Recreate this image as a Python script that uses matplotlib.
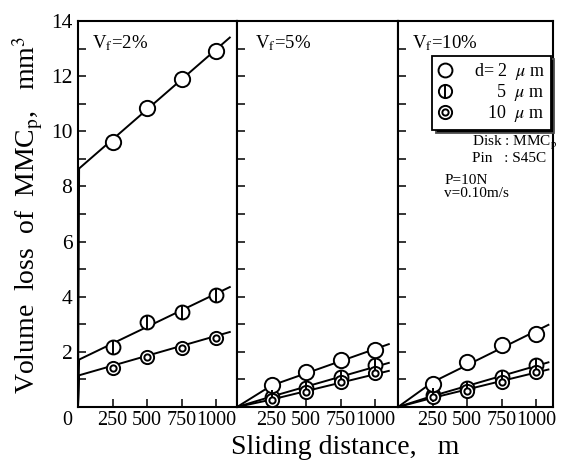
import matplotlib
matplotlib.use('Agg')
import matplotlib.pyplot as plt
import matplotlib.transforms as mtransforms
from matplotlib.lines import Line2D
from matplotlib.ticker import MultipleLocator

plt.rcParams['font.family'] = ['Liberation Serif', 'DejaVu Serif']
plt.rcParams['mathtext.fontset'] = 'stix'

# ---------------- data ----------------
distance = [250, 500, 750, 1000]
vf_labels = ["2%", "5%", "10%"]

loss_d2 = [[9.6, 10.85, 11.9, 12.9],
           [0.8, 1.27, 1.72, 2.07],
           [0.85, 1.63, 2.25, 2.65]]
loss_d5 = [[2.18, 3.08, 3.45, 4.06],
           [0.38, 0.70, 1.09, 1.52],
           [0.42, 0.69, 1.09, 1.52]]
loss_d10 = [[1.43, 1.83, 2.15, 2.52],
            [0.25, 0.55, 0.91, 1.23],
            [0.36, 0.58, 0.91, 1.27]]

# drawn trend lines (vertices)
fit_x = [[0, 8, 1100], [0, 250, 1100], [0, 250, 1090]]
fit_d2 = [[0, 8.65, 13.4], [0, 0.78, 2.28], [0, 0.9, 2.98]]
fit_d5 = [[0, 1.72, 4.35], [0, 0.38, 1.60], [0, 0.40, 1.62]]
fit_d10 = [[0, 1.15, 2.72], [0, 0.27, 1.31], [0, 0.33, 1.36]]

legend_labels = [r"d= 2  $\mu$ m", r"     5  $\mu$ m", r"   10  $\mu$ m"]

# ---------------- figure ----------------
W, H = 568, 461
fig = plt.figure(figsize=(W / 100, H / 100), dpi=100)

edges_px = [78, 237, 398, 553]
top_px, bot_px = 21, 407
px_per_unit_x = 34.5 / 250.0

mk = dict(mfc='white', mec='black', mew=1.4, ls='none', zorder=4)

axes = []
for i in range(3):
    l = edges_px[i] / W
    w = (edges_px[i + 1] - edges_px[i]) / W
    b = (H - bot_px) / H
    h = (bot_px - top_px) / H
    ax = fig.add_axes([l, b, w, h])
    axes.append(ax)
    xmax = (edges_px[i + 1] - edges_px[i]) / px_per_unit_x
    ax.set_xlim(0, xmax)
    ax.set_ylim(0, 14)

    lw = 1.4
    ax.plot(fit_x[i], fit_d2[i], color='black', lw=lw, zorder=2)
    ax.plot(fit_x[i], fit_d5[i], color='black', lw=lw, zorder=2)
    ax.plot(fit_x[i], fit_d10[i], color='black', lw=lw, zorder=2)

    # d = 5 um : circle with vertical bar
    ax.plot(distance, loss_d5[i], marker='o', ms=10, **mk)
    ax.plot(distance, loss_d5[i], marker='|', ms=10, mew=1.4, color='black', ls='none', zorder=5)
    # d = 10 um : double circle
    ax.plot(distance, loss_d10[i], marker='o', ms=9.5, **mk)
    ax.plot(distance, loss_d10[i], marker='o', ms=4.5, mfc='white', mec='black', mew=1.4, ls='none', zorder=6)
    # d = 2 um : open circle
    ax.plot(distance, loss_d2[i], marker='o', ms=11, **mk)

    for s in ax.spines.values():
        s.set_linewidth(1.5)

    ax.tick_params(axis='both', which='both', direction='in', length=6, width=1.1,
                   top=False, right=False, labelsize=14.5, pad=3)
    ax.text(0.09 if i == 0 else (0.11 if i == 1 else 0.09), 0.943,
            r"V$_\mathrm{f}$=" + vf_labels[i], transform=ax.transAxes,
            fontsize=13.5, ha='left', va='center')

    if i == 0:
        ax.set_xticks([0] + distance)
        ax.set_xticklabels(['0'] + [str(d) for d in distance])
        ax.yaxis.set_major_locator(MultipleLocator(2))
        ax.yaxis.set_minor_locator(MultipleLocator(1))
        ax.set_yticks([2, 4, 6, 8, 10, 12, 14])
        ax.tick_params(axis='y', labelsize=15.5, pad=4)
        lbl0 = ax.get_xticklabels()[0]
        lbl0.set_transform(lbl0.get_transform() +
                           mtransforms.ScaledTranslation(-11 / 100, 0, fig.dpi_scale_trans))
    else:
        ax.set_xticks(distance)
        ax.set_xticklabels([str(d) for d in distance])
        ax.yaxis.set_major_locator(MultipleLocator(1))
        ax.set_yticklabels([])

# legend in third panel
ax3 = axes[2]
h_d2 = Line2D([], [], marker='o', ms=10, **mk)
h_d5 = (Line2D([], [], marker='o', ms=9.5, **mk),
        Line2D([], [], marker='|', ms=9.5, mew=1.4, color='black', ls='none'))
h_d10 = (Line2D([], [], marker='o', ms=9.5, **mk),
         Line2D([], [], marker='o', ms=4.5, mfc='white', mec='black', mew=1.4, ls='none'))
leg = ax3.legend([h_d2, h_d5, h_d10], legend_labels, loc='upper right',
                 bbox_to_anchor=(0.985, 0.91), fontsize=13, frameon=True,
                 fancybox=False, edgecolor='black', framealpha=1,
                 shadow={'ox': 2.5, 'oy': -2.5, 'facecolor': 'black', 'alpha': 1},
                 labelspacing=0.0, handlelength=0.8, handletextpad=1.2,
                 borderpad=0.3, borderaxespad=0)
leg.get_frame().set_linewidth(1.3)

ax3.text(0.477, 0.684, r"Disk : MMC$_\mathrm{p}$", transform=ax3.transAxes,
         fontsize=11, ha='left', va='center')
ax3.text(0.477, 0.645, "Pin   : S45C", transform=ax3.transAxes,
         fontsize=11, ha='left', va='center')
ax3.text(0.3, 0.588, "P=10N", transform=ax3.transAxes,
         fontsize=11, ha='left', va='center')
ax3.text(0.3, 0.554, "v=0.10m/s", transform=ax3.transAxes,
         fontsize=11, ha='left', va='center')

fig.text(28 / W, 1 - 215 / H, r"Volume  loss  of  MMC$_\mathrm{p}$,   mm$^3$",
         rotation=90, ha='center', va='center', fontsize=20)
fig.text(345 / W, 1 - 447 / H, "Sliding distance,   m",
         ha='center', va='center', fontsize=20)

fig.savefig('out.png', dpi=100)
